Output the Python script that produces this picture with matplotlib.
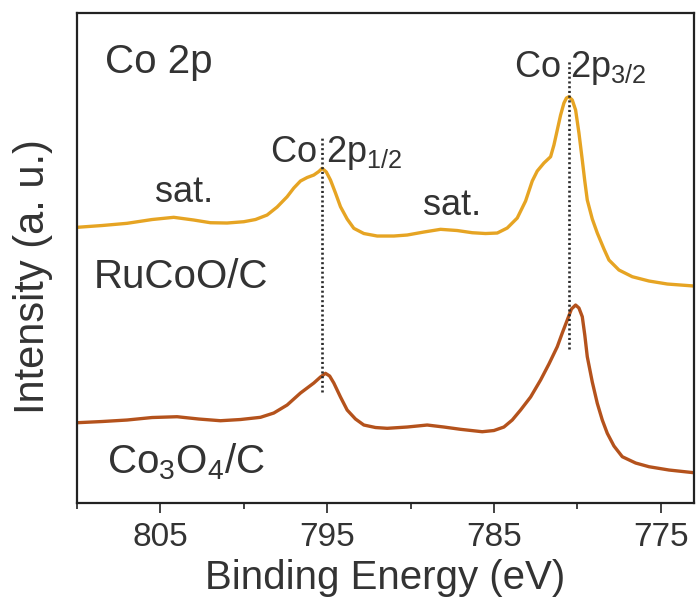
import matplotlib
matplotlib.use("Agg")
import matplotlib.pyplot as plt

plt.rcParams["font.family"] = ["Liberation Sans", "DejaVu Sans"]
plt.rcParams["mathtext.fontset"] = "custom"
plt.rcParams["mathtext.rm"] = "Liberation Sans"
plt.rcParams["mathtext.it"] = "Liberation Sans"

# --- data (binding energy eV, intensity a.u.) ---
ru_energy = [810.0, 808.5, 807.0, 805.5, 804.2, 803.0, 802.0, 801.0, 800.0,
             799.3, 798.6, 798.0, 797.4, 797.0, 796.6, 796.2, 795.8, 795.5,
             795.3, 795.05, 794.8, 794.5, 794.2, 793.8, 793.4, 792.8, 792.0,
             791.0, 790.2, 789.2, 788.2, 787.2, 786.3, 785.5, 784.8, 784.2,
             783.6, 783.1, 782.7, 782.4, 782.0, 781.6, 781.4, 781.2, 781.0,
             780.8, 780.65, 780.5, 780.3, 780.1, 779.9, 779.7, 779.55, 779.4,
             779.1, 778.8, 778.4, 778.1, 777.5, 776.7, 775.7, 774.6, 773.0]
ru_intensity = [275.7, 277.5, 279.7, 283.5, 285.7, 283.0, 280.3, 280.0, 281.3,
                283.5, 288.0, 296.0, 306.3, 315.0, 322.0, 325.5, 328.0, 331.5,
                334.7, 331.0, 323.0, 310.0, 296.3, 284.0, 274.7, 269.5, 267.0,
                267.0, 268.0, 271.0, 273.7, 272.5, 270.3, 269.5, 270.0, 275.0,
                285.0, 302.0, 322.0, 332.0, 340.0, 346.3, 358.0, 373.0, 388.0,
                400.0, 405.0, 406.3, 403.0, 393.0, 370.0, 343.0, 322.0, 303.0,
                284.0, 270.0, 254.0, 243.0, 233.0, 226.3, 222.0, 219.0, 217.0]

co_energy = [810.0, 808.5, 807.0, 805.5, 804.0, 802.7, 801.4, 800.2, 799.0,
             798.2, 797.4, 796.6, 795.8, 795.4, 795.1, 794.85, 794.6, 794.2,
             793.8, 793.3, 792.8, 792.1, 791.4, 790.2, 789.0, 788.0, 787.0,
             785.7, 785.0, 784.4, 783.9, 783.4, 782.8, 782.2, 781.7, 781.2,
             780.9, 780.6, 780.35, 780.1, 779.9, 779.7, 779.55, 779.4, 779.1,
             778.8, 778.5, 778.2, 777.8, 777.3, 776.5, 775.7, 774.5, 773.0]
co_intensity = [80.3, 81.5, 83.0, 85.5, 86.3, 84.0, 82.3, 83.5, 85.7,
                90.0, 98.0, 110.0, 120.0, 126.0, 129.7, 127.0, 120.0, 106.0,
                93.0, 84.0, 78.0, 75.5, 74.7, 76.0, 78.0, 76.0, 73.7,
                71.3, 72.5, 76.0, 83.0, 93.0, 106.0, 123.0, 139.0, 156.3,
                170.0, 183.0, 194.0, 198.0, 195.0, 186.3, 168.0, 146.3, 121.0,
                99.7, 83.0, 69.7, 57.0, 46.3, 40.0, 36.3, 33.0, 30.3]

# peak markers: energy, (bottom, top)
peak_energy = [795.3, 780.5]
peak_span = [(111, 366), (154, 442)]

TXT = "#333333"

fig = plt.figure(figsize=(6.97, 6.03), dpi=100)
ax = fig.add_axes([0.1105, 0.1658, 0.8852, 0.8126])

ax.plot(ru_energy, ru_intensity, color="#E6A423", lw=2.4,
        solid_joinstyle="round", solid_capstyle="round")
ax.plot(co_energy, co_intensity, color="#B4521C", lw=2.4,
        solid_joinstyle="round", solid_capstyle="round")

for e, (lo, hi) in zip(peak_energy, peak_span):
    ax.plot([e, e], [lo, hi], color="#2a2a2a", lw=1.9, dashes=(0.8, 1.0))

ax.set_xlim(810, 773)
ax.set_ylim(0, 490)
ax.set_yticks([])
ax.set_xticks([805, 795, 785, 775])
ax.set_xticks([810, 800, 790, 780], minor=True)
ax.tick_params(axis="x", which="major", direction="out", length=7, width=1.2,
               labelsize=24, pad=7, colors="#222222", labelcolor=TXT)
ax.tick_params(axis="x", which="minor", direction="out", length=4, width=1.2,
               colors="#222222")
for s in ax.spines.values():
    s.set_linewidth(1.6)
    s.set_color("#222222")

fig.text(385 / 697, 1 - 578 / 603, "Binding Energy (eV)", fontsize=29,
         ha="center", va="center", color=TXT)
fig.text(33 / 697, 1 - 277 / 603, "Intensity (a. u.)", fontsize=30,
         rotation=90, ha="center", va="center", color=TXT)

ax.text(808.3, 430, "Co 2p", fontsize=29, color=TXT, va="baseline")
ax.text(798.4, 341, r"Co 2p$_{\mathregular{1/2}}$", fontsize=26, color=TXT, va="baseline")
ax.text(783.8, 426, r"Co 2p$_{\mathregular{3/2}}$", fontsize=26, color=TXT, va="baseline")
ax.text(805.3, 301, "sat.", fontsize=26, color=TXT, va="baseline")
ax.text(789.25, 288, "sat.", fontsize=26, color=TXT, va="baseline")
ax.text(809.0, 215, "RuCoO/C", fontsize=29, color=TXT, va="baseline")
ax.text(808.2, 30, r"Co$_{\mathregular{3}}$O$_{\mathregular{4}}$/C", fontsize=29,
        color=TXT, va="baseline")

fig.savefig("out.png", dpi=100)
